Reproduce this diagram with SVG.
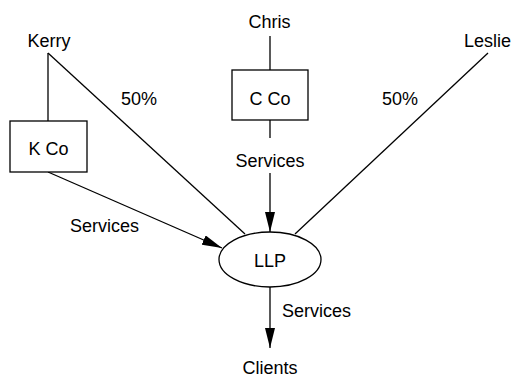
<svg xmlns="http://www.w3.org/2000/svg" width="513" height="377" viewBox="0 0 513 377">
<style>
text{font-family:"Liberation Sans",Arial,sans-serif;font-size:18px;fill:#000;text-anchor:middle}
.box{fill:#fff;stroke:#000;stroke-width:1.3}
.ln{fill:none;stroke:#000;stroke-width:1.3}
</style>
<defs>
<marker id="arr" markerUnits="userSpaceOnUse" markerWidth="20" markerHeight="10" refX="20" refY="5" orient="auto">
<path d="M0,0 L20,5 L0,10 z" fill="#000"/>
</marker>
</defs>
<rect width="513" height="377" fill="#fff"/>
<g id="connectors">
<line class="ln" x1="48" y1="53" x2="48" y2="121"/>
<line class="ln" x1="48" y1="53" x2="245" y2="234"/>
<line class="ln" x1="270" y1="36" x2="270" y2="70"/>
<line class="ln" x1="270" y1="120" x2="270" y2="138"/>
<line class="ln" x1="270" y1="173" x2="270" y2="232" marker-end="url(#arr)"/>
<line class="ln" x1="488" y1="53" x2="295" y2="234"/>
<line class="ln" x1="48" y1="172" x2="222" y2="248" marker-end="url(#arr)"/>
<line class="ln" x1="270" y1="287" x2="270" y2="348" marker-end="url(#arr)"/>
<text x="139" y="105">50%</text>
<text x="400" y="105">50%</text>
<text x="270" y="167">Services</text>
<text x="104.5" y="232">Services</text>
<text x="316.5" y="317">Services</text>
</g>
<g id="kerry"><text x="49" y="47">Kerry</text></g>
<g id="chris"><text x="269.5" y="28">Chris</text></g>
<g id="leslie"><text x="487.5" y="47">Leslie</text></g>
<g id="kco"><rect class="box" x="10" y="121" width="77" height="51"/><text x="48.5" y="155">K Co</text></g>
<g id="cco"><rect class="box" x="232" y="70" width="76" height="50"/><text x="270" y="105">C Co</text></g>
<g id="llp"><ellipse class="box" cx="270" cy="259.5" rx="51" ry="27.5"/><text x="270" y="267">LLP</text></g>
<g id="clients"><text x="270" y="374">Clients</text></g>
</svg>
